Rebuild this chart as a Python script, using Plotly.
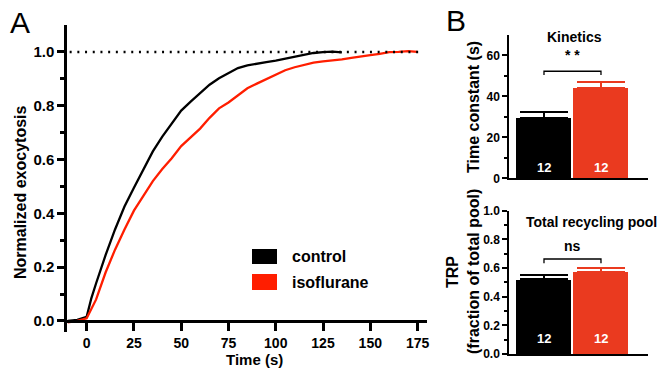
import plotly.graph_objects as go

# ---------------- data ----------------
ctrl_t = [-10, -5, 0, 2.5, 5, 10, 15, 20, 25, 30, 35, 40, 45, 50, 55, 60, 65, 70, 75, 80,
          85, 90, 95, 100, 105, 110, 115, 120, 125, 130, 135]
ctrl_v = [0.0, 0.004, 0.015, 0.085, 0.14, 0.245, 0.34, 0.425, 0.495, 0.565, 0.63, 0.685,
          0.735, 0.782, 0.815, 0.848, 0.878, 0.902, 0.922, 0.94, 0.95, 0.957, 0.962, 0.968,
          0.975, 0.983, 0.99, 0.996, 0.999, 1.001, 0.998]

iso_t = [-10, -5, 0, 5, 10, 15, 20, 25, 30, 35, 40, 45, 50, 55, 60, 65, 70, 75, 80, 85, 90,
         95, 100, 105, 110, 115, 120, 125, 130, 135, 140, 145, 150, 155, 160, 165, 170, 175]
iso_v = [-0.005, 0.0, 0.01, 0.08, 0.18, 0.265, 0.34, 0.41, 0.465, 0.52, 0.565, 0.605, 0.65,
         0.682, 0.715, 0.755, 0.79, 0.812, 0.838, 0.865, 0.882, 0.898, 0.915, 0.932, 0.943,
         0.952, 0.96, 0.965, 0.968, 0.972, 0.978, 0.984, 0.988, 0.993, 0.999, 1.0, 1.003, 1.0]

groups = ["control", "isoflurane"]
tau_mean = [29.3, 43.9]
tau_sem = [3.2, 3.2]
trp_mean = [0.52, 0.574]
trp_sem = [0.033, 0.029]
n_cells = [12, 12]
ref_level = 1.0

x_ticks = [0, 25, 50, 75, 100, 125, 150, 175]
y_ticks = [0.0, 0.2, 0.4, 0.6, 0.8, 1.0]
tau_ticks = [0, 20, 40, 60]

# ---------------- styling ----------------
FONT = "Liberation Sans, Arial, sans-serif"
BLACK = "#000000"
RED_LINE = "#ff1e00"
RED_BAR = "#ea3a1f"
W, H = 665, 368


def px(x):
    return x / W


def py(y):
    return 1 - y / H


fig = go.Figure()

# Panel A curves
fig.add_trace(go.Scatter(x=ctrl_t, y=ctrl_v, mode="lines", line=dict(color=BLACK, width=2.3),
                         xaxis="x", yaxis="y", showlegend=False))
fig.add_trace(go.Scatter(x=iso_t, y=iso_v, mode="lines", line=dict(color=RED_LINE, width=2.3),
                         xaxis="x", yaxis="y", showlegend=False))

bar_colors = [BLACK, RED_BAR]
# Panel B bars (one trace per group so error bar colours match)
for i in range(2):
    fig.add_trace(go.Bar(x=[i], y=[tau_mean[i]], width=0.965, marker=dict(color=bar_colors[i], line=dict(width=0)),
                         error_y=dict(type="data", array=[tau_sem[i]], arrayminus=[0], symmetric=False,
                                      color=bar_colors[i], thickness=2, width=24),
                         xaxis="x2", yaxis="y2", showlegend=False))
    fig.add_trace(go.Bar(x=[i], y=[trp_mean[i]], width=0.965, marker=dict(color=bar_colors[i], line=dict(width=0)),
                         error_y=dict(type="data", array=[trp_sem[i]], arrayminus=[0], symmetric=False,
                                      color=bar_colors[i], thickness=2, width=24),
                         xaxis="x3", yaxis="y3", showlegend=False))

tickfont_ax = dict(family=FONT, size=14, color=BLACK, weight="bold")
tickfont_ay = dict(family=FONT, size=15, color=BLACK, weight="bold")
tickfont_b = dict(family=FONT, size=12, color=BLACK, weight="bold")

fig.update_layout(
    template="none",
    width=W, height=H, autosize=False,
    margin=dict(l=0, r=0, t=0, b=0, pad=0, autoexpand=False),
    paper_bgcolor="white", plot_bgcolor="white",
    showlegend=False, bargap=0,
    xaxis=dict(domain=[px(67), px(427)], range=[-10.4, 180], anchor="free", position=py(321),
               automargin=False,
               showline=True, linecolor=BLACK, linewidth=2.5, showgrid=False, zeroline=False,
               ticks="outside", ticklen=8, tickwidth=2.5, tickcolor=BLACK,
               tickvals=x_ticks, ticktext=[str(v) for v in x_ticks], tickfont=tickfont_ax),
    yaxis=dict(domain=[py(331.7), py(25)], range=[-0.04, 1.1], anchor="x", automargin=False,
               showline=True, linecolor=BLACK, linewidth=2.5, showgrid=False, zeroline=False,
               ticks="outside", ticklen=7, tickwidth=2.5, tickcolor=BLACK,
               tickvals=y_ticks, ticktext=[f"{v:.1f}" for v in y_ticks], tickfont=tickfont_ay,
               minor=dict(tickvals=[0.1, 0.3, 0.5, 0.7, 0.9], ticks="outside", ticklen=4,
                          tickwidth=2.5, tickcolor=BLACK, showgrid=False)),
    xaxis2=dict(domain=[px(509), px(648)], range=[-0.614, 1.825], anchor="y2", automargin=False,
                showline=True, linecolor=BLACK, linewidth=1.5, showgrid=False, zeroline=False,
                showticklabels=False, ticks=""),
    yaxis2=dict(domain=[py(178.3), py(35)], range=[0, 70], anchor="x2", automargin=False,
                showline=True, linecolor=BLACK, linewidth=1.5, showgrid=False, zeroline=False,
                ticks="outside", ticklen=5, tickwidth=1.5, tickcolor=BLACK,
                tickvals=tau_ticks, tickfont=tickfont_b,
                minor=dict(tickvals=[10, 30, 50], ticks="outside", ticklen=3, tickwidth=1.5,
                           tickcolor=BLACK, showgrid=False)),
    xaxis3=dict(domain=[px(509), px(648)], range=[-0.614, 1.825], anchor="y3", automargin=False,
                showline=True, linecolor=BLACK, linewidth=1.5, showgrid=False, zeroline=False,
                showticklabels=False, ticks=""),
    yaxis3=dict(domain=[py(354), py(210.7)], range=[0, 1.0], anchor="x3", automargin=False,
                showline=True, linecolor=BLACK, linewidth=1.5, showgrid=False, zeroline=False,
                ticks="outside", ticklen=5, tickwidth=1.5, tickcolor=BLACK,
                tickvals=y_ticks, ticktext=[f"{v:.1f}" for v in y_ticks], tickfont=tickfont_b,
                minor=dict(tickvals=[0.1, 0.3, 0.5, 0.7, 0.9], ticks="outside", ticklen=3,
                           tickwidth=1.5, tickcolor=BLACK, showgrid=False)),
)

shapes = []
# dotted reference line at 1.0
shapes.append(dict(type="line", xref="x", yref="y", x0=-9, x1=178, y0=ref_level, y1=ref_level,
                   line=dict(color=BLACK, width=2.5, dash="2px,5.7px")))
# significance brackets
shapes.append(dict(type="path", xref="x2", yref="y2",
                   path=f"M 0,{50.4} L 0,{52.3} L 1,{52.3} L 1,{50.4}",
                   line=dict(color=BLACK, width=1.3)))
shapes.append(dict(type="path", xref="x3", yref="y3",
                   path=f"M 0,{0.633} L 0,{0.663} L 1,{0.663} L 1,{0.633}",
                   line=dict(color=BLACK, width=1.3)))
# legend swatches
shapes.append(dict(type="rect", xref="paper", yref="paper", x0=px(252), x1=px(277), y0=py(264), y1=py(249),
                   fillcolor=BLACK, line=dict(width=0)))
shapes.append(dict(type="rect", xref="paper", yref="paper", x0=px(252), x1=px(277), y0=py(290), y1=py(274),
                   fillcolor=RED_LINE, line=dict(width=0)))
fig.update_layout(shapes=shapes)

ann = []
def A(text, x, y, size, bold=True, color=BLACK, xref="paper", yref="paper", xanchor="center",
      yanchor="middle", textangle=0):
    ann.append(dict(text=text, x=x, y=y, xref=xref, yref=yref, showarrow=False, xanchor=xanchor,
                    yanchor=yanchor, textangle=textangle,
                    font=dict(family=FONT, size=size, color=color, weight="bold" if bold else "normal")))

A("A", px(8), py(22), 30, bold=False, xanchor="left")
A("B", px(444), py(20), 30, bold=False, xanchor="left")
A("Normalized exocytosis", px(20), py(192), 16, textangle=-90)
A("Time (s)", px(254), py(359), 15)
A(groups[0], px(290), py(256.5), 16, xanchor="left")
A(groups[1], px(290), py(282), 16, xanchor="left")
A("Kinetics", px(574), py(37), 14)
A("Total recycling pool", px(591), py(221.7), 14)
A("Time constant (s)", px(473), py(107), 16, textangle=-90)
A("TRP", px(452), py(272), 16, textangle=-90)
A("(fraction of total pool)", px(473), py(272), 16, textangle=-90)
A("* *", 0.5, 60.1, 14, xref="x2", yref="y2")
A("ns", 0.5, 0.754, 14, xref="x3", yref="y3")
for i in range(2):
    A(str(n_cells[i]), i, 5.5, 13, color="white", xref="x2", yref="y2")
    A(str(n_cells[i]), i, 0.11, 13, color="white", xref="x3", yref="y3")
fig.update_layout(annotations=ann)

fig.write_html("out.html", config={"displayModeBar": False},
               post_script="document.body.style.margin='0';")
